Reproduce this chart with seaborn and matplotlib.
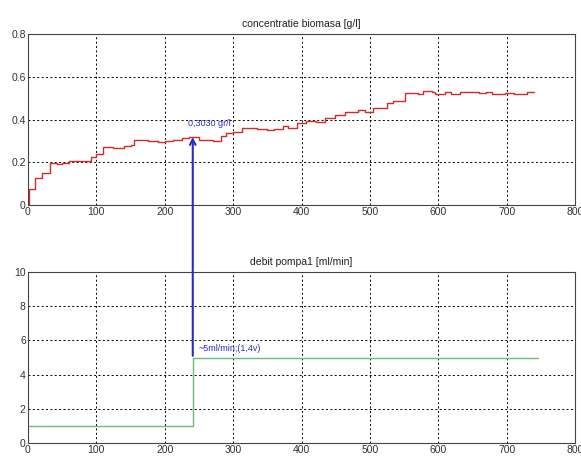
import numpy as np
import pandas as pd
import seaborn as sns
import matplotlib as mpl
from matplotlib import pyplot as plt

# biomass concentration (step data)
t_bio = [0, 1, 11, 21, 32, 42, 50, 60, 92, 100, 110, 125, 140, 150, 155, 175,
         190, 200, 212, 225, 235, 250, 270, 282, 290, 300, 313, 335, 350, 360,
         373, 380, 393, 407, 421, 435, 449, 464, 483, 493, 505, 525, 534, 551,
         570, 578, 590, 595, 610, 619, 631, 660, 669, 679, 698, 710, 729, 740]
c_bio = [0.0, 0.075, 0.126, 0.15, 0.195, 0.19, 0.195, 0.205, 0.225, 0.24, 0.27,
         0.265, 0.275, 0.28, 0.305, 0.30, 0.295, 0.30, 0.305, 0.315, 0.318,
         0.305, 0.30, 0.325, 0.335, 0.34, 0.36, 0.355, 0.35, 0.355, 0.37, 0.362,
         0.382, 0.395, 0.39, 0.405, 0.42, 0.436, 0.444, 0.436, 0.455, 0.479,
         0.488, 0.522, 0.518, 0.533, 0.527, 0.518, 0.527, 0.518, 0.527, 0.523,
         0.528, 0.518, 0.525, 0.518, 0.527, 0.527]

# pump flow
t_pump = [0, 241, 745]
q_pump = [1, 5, 5]

x_ticks = [0, 100, 200, 300, 400, 500, 600, 700, 800]
y1_ticks = [0, 0.2, 0.4, 0.6, 0.8]
y1_labels = ['0', '0.2', '0.4', '0.6', '0.8']
y2_ticks = [0, 2, 4, 6, 8, 10]

t_mark = 241
c_mark = 0.318
q_mark = 5.1

bio = pd.DataFrame({'t': t_bio, 'c': c_bio})
pump = pd.DataFrame({'t': t_pump, 'q': q_pump})

sns.set_style('white')
plt.rcParams['font.family'] = ['Liberation Sans Narrow', 'Liberation Sans', 'DejaVu Sans']

fig = plt.figure(figsize=(5.81, 4.57), dpi=100)
ax1 = fig.add_axes([0.048, 0.5514, 0.942, 0.3742])
ax2 = fig.add_axes([0.048, 0.0306, 0.942, 0.3742])

sns.lineplot(data=bio, x='t', y='c', ax=ax1, color='#d42a2a', lw=1.0,
             drawstyle='steps-post', estimator=None, sort=False)
sns.lineplot(data=pump, x='t', y='q', ax=ax2, color='#6dbb7d', lw=1.0,
             drawstyle='steps-post', estimator=None, sort=False)

for ax, yt in [(ax1, y1_ticks), (ax2, y2_ticks)]:
    ax.set_xlim(0, 800)
    ax.set_xticks(x_ticks)
    ax.set_yticks(yt)
    ax.set_ylim(yt[0], yt[-1])
    ax.grid(True, color='k', linestyle=(0, (2, 2.5)), lw=0.7)
    ax.tick_params(direction='in', length=3, labelsize=7.5, pad=1.5,
                   colors='#333333')
    ax.set_xlabel('')
    ax.set_ylabel('')
    for s in ax.spines.values():
        s.set_color('#444444')
        s.set_linewidth(0.8)

ax1.set_yticklabels(y1_labels)
ax1.set_title('concentratie biomasa [g/l]', fontsize=7.5, pad=5, color='#222222')
ax2.set_title('debit pompa1 [ml/min]', fontsize=7.5, pad=5, color='#222222')

# arrow from the pump step up to the biomass curve (drawn on the lower axes
# so it sits on top of both panels)
ax2.annotate('', xy=(t_mark, c_mark), xycoords=ax1.transData,
             xytext=(t_mark, q_mark), textcoords='data', annotation_clip=False,
             arrowprops=dict(arrowstyle='->', color='#2a2ac8', lw=1.5,
                             shrinkA=0, shrinkB=0))
ax1.text(234, 0.36, '0,3030 gr/l', color='#2a2ac8', fontsize=6.5, va='bottom')
ax2.text(249, 5.25, '~5ml/min;(1,4v)', color='#2a2ac8', fontsize=6.5,
         va='bottom')

plt.savefig('out.png', dpi=100)
